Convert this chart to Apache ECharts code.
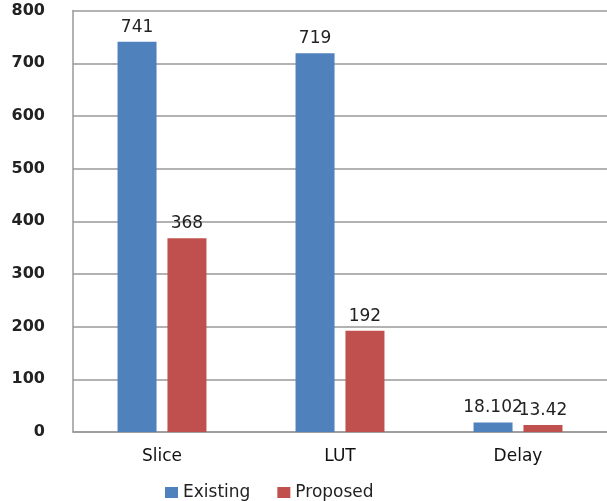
<!DOCTYPE html>
<html><head><meta charset="utf-8">
<script src="https://cdn.jsdelivr.net/npm/echarts@6/dist/echarts.min.js"></script>
<style>html,body{margin:0;padding:0;background:#fff}#c{width:607px;height:501px}</style>
</head><body><div id="c"></div>
<script>
var categories = ['Slice', 'LUT', 'Delay'];
var existing = [741, 719, 18.102];
var proposed = [368, 192, 13.42];
var yTicks = [0, 100, 200, 300, 400, 500, 600, 700, 800];

var chart = echarts.init(document.getElementById('c'));
var font = 'DejaVu Sans';
chart.setOption({
  animation: false,
  textStyle: { fontFamily: font },
  grid: { left: 73, right: -1, top: 10.6, bottom: 69, containLabel: false },
  legend: {
    top: 479, left: 160,
    itemWidth: 13, itemHeight: 11, itemGap: 27,
    icon: 'rect',
    textStyle: { fontFamily: font, fontSize: 17, color: '#222' },
    data: ['Existing', 'Proposed']
  },
  xAxis: {
    type: 'category', data: categories,
    axisLine: { lineStyle: { color: '#999', width: 1.5 } },
    axisTick: { show: false },
    axisLabel: { fontFamily: font, fontSize: 17, color: '#111', margin: 16 }
  },
  yAxis: {
    type: 'value', min: yTicks[0], max: yTicks[yTicks.length - 1], interval: 100,
    axisLine: { show: true, lineStyle: { color: '#999', width: 1.5 } },
    axisTick: { show: false },
    splitLine: { lineStyle: { color: '#999', width: 1.5 } },
    axisLabel: { fontFamily: font, fontSize: 16, fontWeight: 'bold', color: '#222', margin: 28 }
  },
  series: [
    { name: 'Existing', type: 'bar', data: existing, barWidth: 39, barGap: '28%',
      itemStyle: { color: '#4F81BD' },
      label: { show: true, position: 'top', distance: 6, fontFamily: font, fontSize: 17, color: '#222' } },
    { name: 'Proposed', type: 'bar', data: proposed, barWidth: 39,
      itemStyle: { color: '#C0504D' },
      label: { show: true, position: 'top', distance: 6, fontFamily: font, fontSize: 17, color: '#222' } }
  ]
});
</script></body></html>
